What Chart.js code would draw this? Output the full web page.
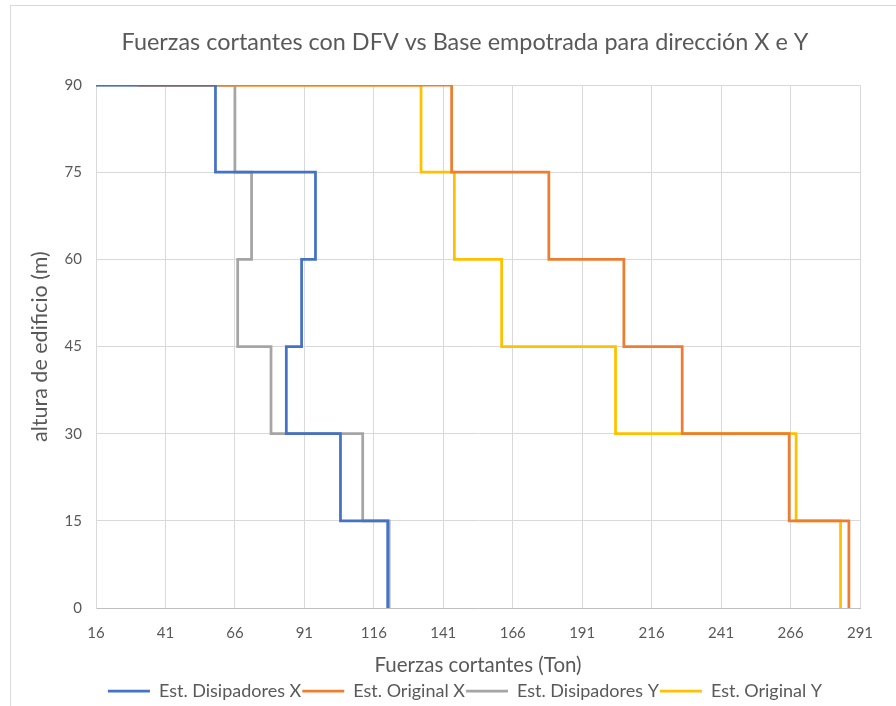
<!DOCTYPE html>
<html>
<head>
<meta charset="utf-8">
<script src="https://cdn.jsdelivr.net/npm/chart.js@4/dist/chart.umd.min.js"></script>
<style>
  html, body { margin: 0; padding: 0; background: #fff; }
  #wrap { position: relative; width: 896px; height: 706px; overflow: hidden; }
  #marco { position: absolute; left: 10px; top: 5px; width: 900px; height: 720px;
           border-left: 1px solid #d9d9d9; border-top: 1px solid #d9d9d9; pointer-events: none; }
  canvas { position: absolute; left: 0; top: 0; }
</style>
</head>
<body>
<div id="wrap">
  <div id="marco"></div>
  <canvas id="grafico" width="896" height="706"></canvas>
</div>
<script>
// alturas de cada nivel (m), de arriba hacia abajo
const alturas = [90, 75, 60, 45, 30, 15, 0];

// cortante de cada tramo entre alturas[i] y alturas[i+1] (Ton)
const disipadoresX = [59, 95, 90, 84.5, 104, 121];
const originalX = [144, 179, 206, 227, 265.5, 287];
const disipadoresY = [66, 72, 67, 79, 112, 121.5];
const originalY = [133, 145, 162, 203, 268, 284];

// punto de arranque de cada curva en la cota superior
const inicioDisipadoresX = 0;
const inicioOriginalX = 31;
const inicioDisipadoresY = 0;
const inicioOriginalY = 31;

const xMin = 16, xMax = 291, xPaso = 25;
const yMin = 0, yMax = 90, yPaso = 15;

const gris = '#595959';
const fuente = 'Lato, "Open Sans", sans-serif';

// arma el perfil escalonado: horizontal hasta el cortante, vertical hasta el nivel inferior
const perfil = (inicio, cortantes) => {
    const pts = [{x: inicio, y: alturas[0]}];
    cortantes.forEach((v, i) => {
        pts.push({x: v, y: alturas[i]});
        pts.push({x: v, y: alturas[i + 1]});
    });
    return pts;
};

const serie = (label, data, color) => ({
    label: label,
    data: data,
    showLine: true,
    fill: false,
    borderColor: color,
    backgroundColor: color,
    borderWidth: 2.75,
    pointRadius: 0,
    pointHoverRadius: 0,
    tension: 0
});

// título y leyenda van centrados en x=465, no en el centro del lienzo
const centroCabecera = 465;
const centrarCabecera = {
    id: 'centrarCabecera',
    afterLayout(chart) {
        [chart.titleBlock, chart.legend].forEach((b) => {
            if (b) b.left = 2 * centroCabecera - b.right;
        });
    }
};

const config = {
    type: 'scatter',
    data: {
        datasets: [
            serie('Est. Disipadores X', perfil(inicioDisipadoresX, disipadoresX), '#4472C4'),
            serie('Est. Original X', perfil(inicioOriginalX, originalX), '#ED7D31'),
            serie('Est. Disipadores Y', perfil(inicioDisipadoresY, disipadoresY), '#A5A5A5'),
            serie('Est. Original Y', perfil(inicioOriginalY, originalY), '#FFC000')
        ]
    },
    options: {
        responsive: false,
        animation: false,
        layout: { padding: { left: 10, right: 36, top: 0, bottom: -4 } },
        plugins: {
            tooltip: { enabled: false },
            title: {
                display: true,
                text: 'Fuerzas cortantes con DFV vs Base empotrada para dirección X e Y',
                color: gris,
                font: { family: fuente, size: 23.4, weight: 'normal' },
                padding: { top: 28, bottom: 29 }
            },
            legend: {
                position: 'bottom',
                labels: {
                    color: gris,
                    font: { family: fuente, size: 18 },
                    usePointStyle: true,
                    pointStyle: 'line',
                    pointStyleWidth: 42,
                    boxHeight: 12,
                    padding: 1
                }
            }
        },
        scales: {
            x: {
                type: 'linear',
                min: xMin,
                max: xMax,
                ticks: { stepSize: xPaso, color: gris, padding: 16, font: { family: fuente, size: 15 } },
                grid: { color: '#d9d9d9', drawTicks: false },
                border: { color: '#bfbfbf' },
                title: {
                    display: true,
                    text: 'Fuerzas cortantes (Ton)',
                    color: gris,
                    font: { family: fuente, size: 20.5 },
                    padding: { top: 4, bottom: 3 }
                },
                afterFit: (scale) => { scale.height = 73; }
            },
            y: {
                type: 'linear',
                min: yMin,
                max: yMax,
                ticks: { stepSize: yPaso, color: gris, padding: 14, font: { family: fuente, size: 15 } },
                grid: { color: '#d9d9d9', drawTicks: false },
                border: { color: '#d9d9d9' },
                title: {
                    display: true,
                    text: 'altura de edificio (m)',
                    color: gris,
                    font: { family: fuente, size: 21.5 },
                    padding: { top: 17, bottom: 4 }
                },
                afterFit: (scale) => { scale.width = 86; }
            }
        }
    },
    plugins: [centrarCabecera]
};

new Chart(document.getElementById('grafico').getContext('2d'), config);
</script>
</body>
</html>
